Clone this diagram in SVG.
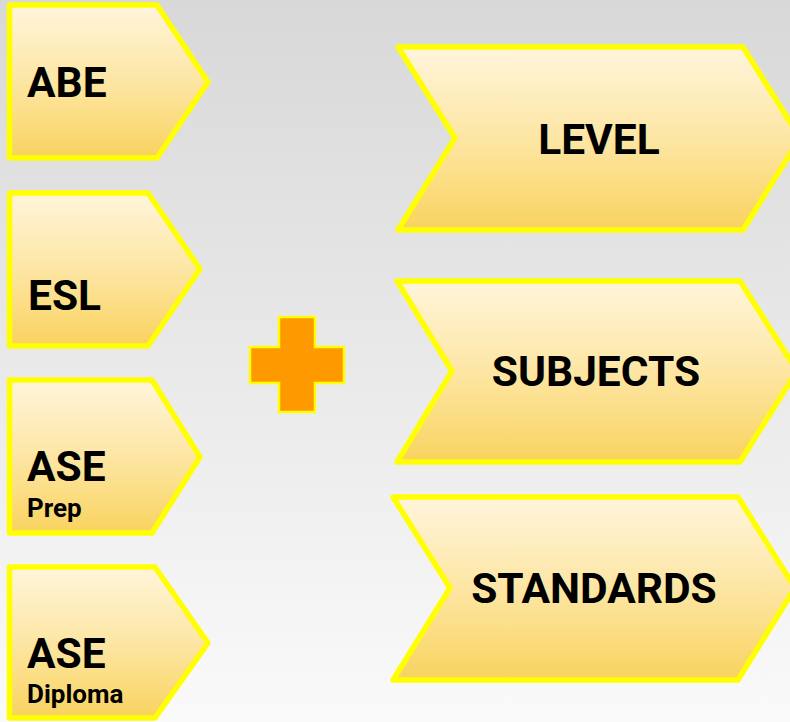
<svg xmlns="http://www.w3.org/2000/svg" width="790" height="722" viewBox="0 0 790 722">
  <defs>
    <linearGradient id="bg" x1="0" y1="0" x2="0" y2="1">
      <stop offset="0" stop-color="#d8d8d8"/>
      <stop offset="1" stop-color="#fafafa"/>
    </linearGradient>
    <linearGradient id="fill" x1="0" y1="0" x2="0" y2="1">
      <stop offset="0" stop-color="#fff5db"/>
      <stop offset="0.5" stop-color="#fde6a4"/>
      <stop offset="1" stop-color="#f9d35f"/>
    </linearGradient>
    <style>
      .shape { fill: url(#fill); stroke: #ffff00; stroke-width: 5.5; stroke-linejoin: round; }
      .plus { fill: #ff9900; stroke: #ffff00; stroke-width: 2.5; }
      .big { font-family: Roboto, "Liberation Sans", sans-serif; font-weight: bold; font-size: 42.5px; fill: #000; }
      .small { font-family: Roboto, "Liberation Sans", sans-serif; font-weight: bold; font-size: 26px; fill: #000; }
      .mid { text-anchor: middle; }
    </style>
  </defs>
  <rect x="0" y="0" width="790" height="722" fill="url(#bg)"/>

  <g id="abe">
    <path class="shape" d="M9.5,5 L157,5 L208,82 L157,158 L9.5,158 Z"/>
    <text class="big" x="27" y="97">ABE</text>
  </g>
  <g id="esl">
    <path class="shape" d="M9.5,193 L148,193 L200,269 L148,346 L9.5,346 Z"/>
    <text class="big" x="28" y="310">ESL</text>
  </g>
  <g id="ase-prep">
    <path class="shape" d="M9.5,380 L152,380 L200,457 L152,533 L9.5,533 Z"/>
    <text class="big" x="27" y="481">ASE</text>
    <text class="small" x="27" y="517">Prep</text>
  </g>
  <g id="ase-diploma">
    <path class="shape" d="M9.5,567 L155,567 L208,643 L155,718 L9.5,718 Z"/>
    <text class="big" x="27" y="668">ASE</text>
    <text class="small" x="27" y="703">Diploma</text>
  </g>

  <g id="plus">
    <path class="plus" d="M279,317 L315,317 L315,347 L344,347 L344,383 L315,383 L315,412 L279,412 L279,383 L250,383 L250,347 L279,347 Z"/>
  </g>

  <g id="level">
    <path class="shape" d="M398,47 L743,47 L800,138 L743,230 L398,230 L455,138 Z"/>
    <text class="big mid" x="599" y="154">LEVEL</text>
  </g>
  <g id="subjects">
    <path class="shape" d="M397,281 L740,281 L797,371 L740,462 L397,462 L452,371 Z"/>
    <text class="big mid" x="596" y="386">SUBJECTS</text>
  </g>
  <g id="standards">
    <path class="shape" d="M393,497 L738,497 L795,588 L738,680 L393,680 L450,588 Z"/>
    <text class="big mid" x="594" y="603">STANDARDS</text>
  </g>

  <g id="connectors"></g>
</svg>
